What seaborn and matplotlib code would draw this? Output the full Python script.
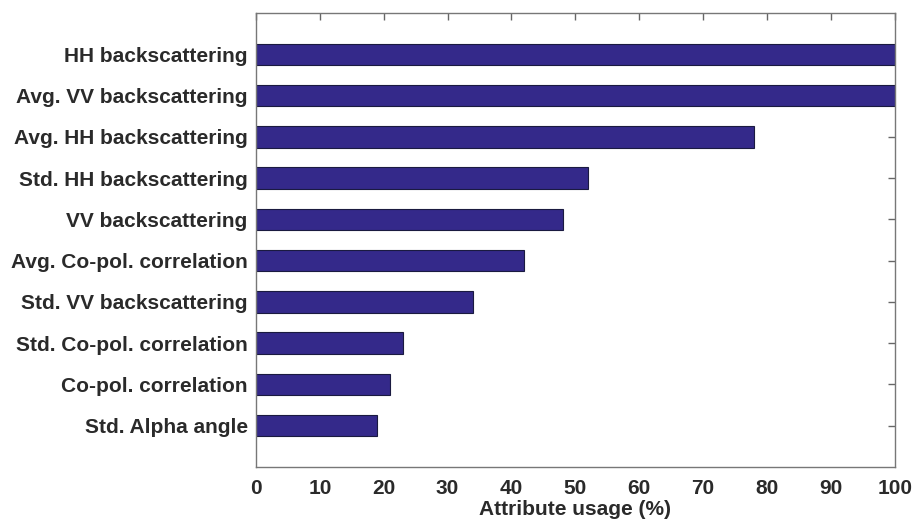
import pandas as pd
import matplotlib.pyplot as plt
import seaborn as sns

attributes = [
    "HH backscattering",
    "Avg. VV backscattering",
    "Avg. HH backscattering",
    "Std. HH backscattering",
    "VV backscattering",
    "Avg. Co-pol. correlation",
    "Std. VV backscattering",
    "Std. Co-pol. correlation",
    "Co-pol. correlation",
    "Std. Alpha angle",
]
usage = [100, 100, 78, 52, 48, 42, 34, 23, 21, 19]
x_ticks = [0, 10, 20, 30, 40, 50, 60, 70, 80, 90, 100]

df = pd.DataFrame({"attribute": attributes, "usage": usage})

sns.set_style("white")
plt.rcParams['font.family'] = ['Liberation Sans', 'DejaVu Sans']
plt.rcParams['font.weight'] = 'bold'

fig = plt.figure(figsize=(9.15, 5.27), dpi=100)
ax = fig.add_axes([0.2798, 0.1139, 0.698, 0.8614])

sns.barplot(data=df, x="usage", y="attribute", orient="h", color="#34298a",
            saturation=1, width=0.52, edgecolor="#1a1a40", linewidth=0.8, ax=ax)

ax.set_xlim(0, 100)
ax.set_ylim(10, -1)
ax.set_xticks(x_ticks)
ax.set_xlabel("Attribute usage (%)", fontsize=15, fontweight='bold', color='#2a2a2a', labelpad=1)
ax.set_ylabel("")
ax.tick_params(axis='both', direction='in', length=5, color='#666666', labelsize=15,
               labelcolor='#2a2a2a', top=True, right=True, width=1)
ax.tick_params(axis='x', pad=9)
ax.tick_params(axis='y', pad=6)
for lbl in ax.get_xticklabels() + ax.get_yticklabels():
    lbl.set_fontweight('bold')
for s in ax.spines.values():
    s.set_color('#777777')
    s.set_linewidth(1)
    s.set_visible(True)

plt.savefig("out.png", dpi=100)
plt.close()
